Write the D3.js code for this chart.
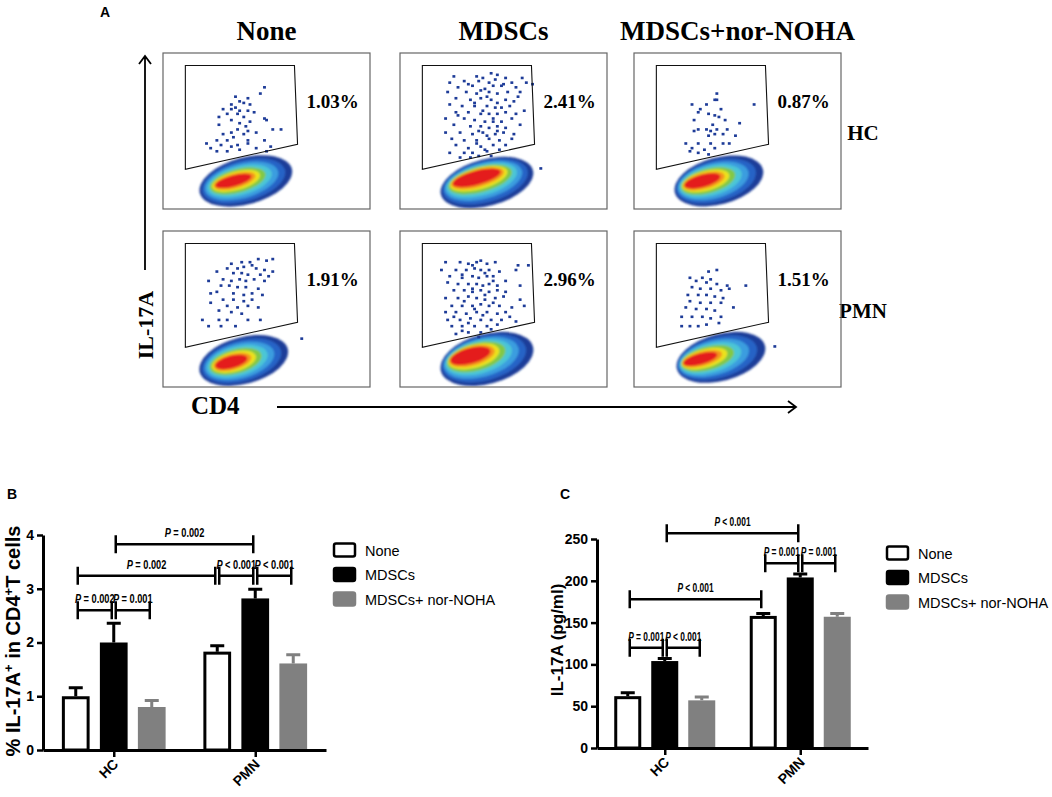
<!DOCTYPE html>
<html>
<head>
<meta charset="utf-8">
<script src="https://cdn.jsdelivr.net/npm/d3@7"></script>
<style>
body { margin: 0; background: #fff; }
text { font-family: "Liberation Sans", Arial, sans-serif; }
.serif { font-family: "Liberation Serif", "Times New Roman", serif; font-weight: bold; }
</style>
</head>
<body>
<svg id="fig" width="1052" height="797"></svg>
<script>
// ---- panel A data (flow plots) ----
var conditions = ['None', 'MDSCs', 'MDSCs+nor-NOHA'];
var donors = ['HC', 'PMN'];
var gatePct = [[1.03, 2.41, 0.87], [1.91, 2.96, 1.51]];
// IL-17A+ gate, CD4 vs IL-17A units (0-100)
var gate = [[10.8, 92], [63.5, 92], [65, 41.5], [10.8, 25.5]];
// main population: outer contour and dense core [cx, cy, rx, ry]
var popOuter = [
  [[40, 18, 23, 15], [42, 17, 23, 15], [41, 18, 22, 15]],
  [[39, 17, 22, 15], [42, 18, 23, 16], [42, 19, 22, 15]]
];
var popCore = [
  [[34, 18, 9, 3.5], [37, 20, 12, 4.5], [33, 18, 9, 4]],
  [[33, 16, 8, 4], [34, 20, 10, 5], [32, 18, 8.5, 3.5]]
];
// single events
var hcNone = [[49,78],[47,74],[35,72],[41,71],[37,69],[33,67],[39,68],[42,67],[35,65],[33,64],[29,64],[37,63],[41,63],[44,62],[36,61],[31,61],[27,59],[39,59],[49,58],[50,57],[33,57],[42,56],[37,55],[27,54],[40,53],[53,51],[57,51],[36,51],[41,50],[33,49],[29,48],[45,49],[39,48],[34,46],[26,44],[31,44],[41,44],[49,44],[21,42],[28,41],[36,41],[33,40],[41,42],[23,39],[45,39],[52,40],[26,37],[31,37],[37,38],[50,37]];
var hcMdsc = [[26,85],[37,85],[44,87],[47,86],[51,84],[59,84],[24,81],[31,82],[38,82],[43,81],[46,83],[54,81],[61,81],[28,78],[35,79],[41,77],[45,79],[49,79],[56,78],[23,75],[32,75],[37,74],[43,75],[47,74],[52,75],[58,75],[27,71],[34,70],[39,71],[44,70],[47,68],[51,70],[55,69],[24,67],[30,66],[36,66],[42,66],[46,65],[53,66],[60,63],[27,62],[33,62],[39,61],[43,61],[47,61],[51,62],[56,61],[22,58],[31,58],[36,57],[41,56],[45,58],[49,56],[54,58],[26,54],[34,53],[39,53],[43,52],[47,53],[51,52],[58,54],[22,49],[29,49],[35,48],[40,49],[46,48],[50,49],[55,48],[25,45],[31,44],[37,44],[43,45],[48,44],[54,45],[27,41],[33,39],[39,40],[45,41],[51,41],[24,36],[31,36],[35,36],[42,37],[29,33],[34,33],[40,84],[33,80],[50,80],[39,76],[42,72],[36,68],[49,65],[40,63],[45,56],[38,50],[42,47],[47,50],[37,42],[41,38],[38,34],[44,34],[48,38],[28,60],[57,72],[64,80],[68,26]];
var hcNoha = [[40,74],[39,70],[40,70],[28,67],[35,67],[58,67],[32,64],[42,64],[31,62],[36,61],[39,60],[41,59],[44,57],[29,57],[51,55],[38,54],[31,51],[35,51],[40,51],[45,51],[37,50],[29,50],[43,48],[49,47],[39,48],[36,47],[25,42],[31,42],[37,42],[43,42],[46,42],[28,39],[34,38],[39,39],[27,37],[31,36],[36,35]];
var pmnNone = [[46,82],[50,81],[53,82],[33,79],[38,80],[42,80],[43,78],[31,76],[36,76],[39,77],[45,76],[49,75],[53,74],[26,74],[34,73],[38,73],[41,72],[47,72],[51,71],[22,68],[29,69],[33,68],[37,69],[40,68],[44,69],[49,68],[28,65],[32,65],[36,64],[40,64],[46,63],[26,61],[23,60],[34,60],[39,59],[43,60],[48,59],[29,56],[34,56],[39,55],[43,56],[31,52],[36,51],[41,52],[46,51],[23,54],[27,49],[33,48],[38,47],[27,43],[19,43],[31,43],[41,43],[47,43],[22,39],[28,39],[35,39],[67,31]];
var pmnMdsc = [[22,80],[29,80],[33,79],[37,80],[39,81],[42,79],[46,80],[57,78],[62,78],[20,75],[27,75],[32,75],[36,76],[39,75],[43,75],[48,74],[56,75],[24,71],[30,70],[35,71],[38,70],[42,71],[45,71],[51,68],[23,67],[28,66],[33,66],[37,66],[40,65],[43,66],[47,65],[58,65],[26,62],[31,62],[35,61],[39,62],[43,61],[47,62],[51,61],[22,57],[28,57],[33,58],[37,57],[41,56],[46,57],[50,58],[58,56],[25,52],[30,52],[35,52],[39,53],[43,52],[48,52],[54,51],[60,52],[22,48],[27,48],[32,47],[37,48],[42,48],[47,47],[51,48],[23,43],[29,43],[34,44],[39,43],[44,43],[49,43],[56,42],[25,39],[30,39],[36,39],[42,39],[47,40],[27,34],[33,35],[39,35],[35,78],[41,73],[30,72],[45,68],[35,63],[41,59],[31,55],[45,54],[36,50],[40,46],[33,41],[44,37],[26,45],[53,45],[38,32],[30,36]];
var pmnNoha = [[36,74],[40,75],[27,70],[33,70],[37,69],[30,68],[35,67],[40,66],[45,65],[54,65],[28,64],[32,63],[37,63],[42,62],[46,63],[26,59],[31,59],[35,59],[39,58],[43,57],[27,55],[32,54],[37,54],[42,54],[48,51],[25,51],[30,50],[35,50],[39,49],[23,45],[28,45],[33,45],[37,44],[42,45],[23,39],[27,39],[31,39],[35,40],[41,41],[68,26]];
var events = [[hcNone, hcMdsc, hcNoha], [pmnNone, pmnMdsc, pmnNoha]];

// ---- panels B and C data ----
var groups = ['HC', 'PMN'];
var series = ['None', 'MDSCs', 'MDSCs+ nor-NOHA'];
var pctMean = [[1.0, 2.0, 0.8], [1.83, 2.82, 1.61]];
var pctErr = [[0.16, 0.36, 0.12], [0.11, 0.17, 0.16]];
var pctTicks = [0, 1, 2, 3, 4];
var il17Mean = [[62, 104, 57], [158, 204, 157]];
var il17Err = [[4, 3, 4], [3, 4, 4]];
var il17Ticks = [0, 50, 100, 150, 200, 250];
// [group1, series1, group2, series2, height, label]
var pctStats = [
  ['HC', 1, 'PMN', 1, 3.83, '= 0.002'],
  ['HC', 0, 'PMN', 0, 3.24, '= 0.002'],
  ['PMN', 0, 'PMN', 1, 3.24, '< 0.001'],
  ['PMN', 1, 'PMN', 2, 3.24, '< 0.001'],
  ['HC', 0, 'HC', 1, 2.6, '= 0.002'],
  ['HC', 1, 'HC', 2, 2.6, '= 0.001']
];
var il17Stats = [
  ['HC', 1, 'PMN', 1, 257, '< 0.001'],
  ['HC', 0, 'PMN', 0, 178, '< 0.001'],
  ['PMN', 0, 'PMN', 1, 221, '= 0.001'],
  ['PMN', 1, 'PMN', 2, 221, '= 0.001'],
  ['HC', 0, 'HC', 1, 120, '= 0.001'],
  ['HC', 1, 'HC', 2, 120, '< 0.001']
];

var svg = d3.select('#fig');

// contour colours from outer ring to core
var levels = [
  [0, '#1f3d99'], [0.17, '#2864c6'], [0.34, '#3b9ddf'], [0.5, '#4cc6d6'],
  [0.65, '#82c846'], [0.79, '#ece21e'], [0.9, '#f5961c'], [1, '#e41a1c']
];

svg.append('defs').append('filter').attr('id', 'soft')
  .append('feGaussianBlur').attr('stdDeviation', 0.9);

// ================= PANEL A =================
var boxW = 207, boxH = 156;
var colX = [163, 400, 634], rowY = [53, 231];

svg.append('text').attr('x', 100).attr('y', 17).attr('font-size', 14)
  .attr('font-weight', 'bold').text('A');

conditions.forEach(function (c, j) {
  svg.append('text').attr('class', 'serif').attr('x', colX[j] + boxW / 2).attr('y', 40)
    .attr('text-anchor', 'middle').attr('font-size', 27).text(c);
});
donors.forEach(function (d, i) {
  svg.append('text').attr('class', 'serif').attr('x', 863).attr('y', rowY[i] + boxH / 2 + 9)
    .attr('text-anchor', 'middle').attr('font-size', 21).text(d);
});

donors.forEach(function (d, i) {
  conditions.forEach(function (c, j) {
    var g = svg.append('g').attr('transform', 'translate(' + colX[j] + ',' + rowY[i] + ')');
    var x = d3.scaleLinear().domain([0, 100]).range([0, boxW]);
    var y = d3.scaleLinear().domain([0, 100]).range([boxH, 0]);
    var cid = 'clip' + i + j;
    g.append('clipPath').attr('id', cid).append('rect')
      .attr('width', boxW).attr('height', boxH);
    var inner = g.append('g').attr('clip-path', 'url(#' + cid + ')');

    var o = popOuter[i][j], k = popCore[i][j];
    inner.append('g').attr('filter', 'url(#soft)')
      .selectAll('ellipse').data(levels).join('ellipse')
      .each(function (lv) {
        var t = lv[0];
        var cx = x(o[0] + (k[0] - o[0]) * t), cy = y(o[1] + (k[1] - o[1]) * t);
        d3.select(this)
          .attr('cx', cx).attr('cy', cy)
          .attr('rx', x(o[2] + (k[2] - o[2]) * t) - x(0))
          .attr('ry', y(0) - y(o[3] + (k[3] - o[3]) * t))
          .attr('transform', 'rotate(-15,' + cx + ',' + cy + ')')
          .attr('fill', lv[1]);
      });

    inner.selectAll('rect.ev').data(events[i][j]).join('rect').attr('class', 'ev')
      .attr('x', function (p) { return x(p[0]) - 1.4; })
      .attr('y', function (p) { return y(p[1]) - 1.3; })
      .attr('width', 2.9).attr('height', 2.6).attr('fill', '#1e3c98');

    g.append('path')
      .attr('d', d3.line().x(function (p) { return x(p[0]); }).y(function (p) { return y(p[1]); })(gate) + 'Z')
      .attr('fill', 'none').attr('stroke', '#111').attr('stroke-width', 1.1);

    g.append('rect').attr('width', boxW).attr('height', boxH)
      .attr('fill', 'none').attr('stroke', '#666').attr('stroke-width', 1.2);

    g.append('text').attr('class', 'serif').attr('x', x(82)).attr('y', y(69) + 7)
      .attr('text-anchor', 'middle').attr('font-size', 19)
      .text(gatePct[i][j].toFixed(2) + '%');
  });
});

// axis arrows
svg.append('path').attr('d', 'M145,270V56M139,64L145,56L151,64')
  .attr('fill', 'none').attr('stroke', '#000').attr('stroke-width', 1.8);
svg.append('path').attr('d', 'M277,407H796M788,401L796,407L788,413')
  .attr('fill', 'none').attr('stroke', '#000').attr('stroke-width', 1.8);
svg.append('text').attr('class', 'serif').attr('font-size', 22)
  .attr('transform', 'translate(153,325) rotate(-90)').attr('text-anchor', 'middle').text('IL-17A');
svg.append('text').attr('class', 'serif').attr('font-size', 25)
  .attr('x', 191).attr('y', 414).text('CD4');

// ================= PANELS B, C =================
function barChart(o) {
  var y = d3.scaleLinear().domain([0, o.max]).range([o.bottom, o.top]);
  var xg = d3.scalePoint().domain(groups).range([o.left, o.right]).padding(0.5);
  var xs = d3.scaleBand().domain(d3.range(series.length))
    .range([-o.half, o.half]).paddingInner(0.27).paddingOuter(0.135);
  var bw = xs.bandwidth();
  function cx(g, s) { return xg(g) + xs(s) + bw / 2; }
  var fills = ['#fff', '#000', '#808080'];
  var strokes = ['#000', '#000', '#808080'];

  var rows = [];
  groups.forEach(function (g, gi) {
    series.forEach(function (s, si) {
      rows.push({ g: g, s: si, v: o.mean[gi][si], e: o.err[gi][si] });
    });
  });

  var cg = svg.append('g');
  // error bars (up only)
  cg.selectAll('path.err').data(rows).join('path').attr('class', 'err')
    .attr('d', function (d) {
      var c = cx(d.g, d.s), t = y(d.v + d.e);
      return 'M' + c + ',' + y(d.v) + 'V' + t + 'M' + (c - 7) + ',' + t + 'H' + (c + 7);
    })
    .attr('fill', 'none').attr('stroke-width', 3)
    .attr('stroke', function (d) { return strokes[d.s]; });
  // bars
  cg.selectAll('rect.bar').data(rows).join('rect').attr('class', 'bar')
    .attr('x', function (d) { return cx(d.g, d.s) - bw / 2 + 1.5; })
    .attr('y', function (d) { return y(d.v) + 1.5; })
    .attr('width', bw - 3)
    .attr('height', function (d) { return o.bottom - y(d.v) - 1.5; })
    .attr('fill', function (d) { return fills[d.s]; })
    .attr('stroke', function (d) { return strokes[d.s]; })
    .attr('stroke-width', 3);

  // axes
  var ay = svg.append('g').attr('transform', 'translate(' + o.left + ',0)')
    .call(d3.axisLeft(y).tickValues(o.ticks).tickFormat(d3.format('d'))
      .tickSize(6).tickSizeOuter(0).tickPadding(3));
  var ax = svg.append('g').attr('transform', 'translate(0,' + o.bottom + ')')
    .call(d3.axisBottom(xg).tickSize(7).tickSizeOuter(0));
  [ay, ax].forEach(function (a) {
    a.select('.domain').attr('stroke-width', 3).attr('stroke', '#000');
    a.selectAll('.tick line').attr('stroke-width', 2.5).attr('stroke', '#000');
    a.selectAll('text').attr('font-size', 14).attr('font-weight', 'bold')
      .attr('font-family', '"Liberation Sans", Arial, sans-serif').attr('fill', '#000');
  });
  ax.selectAll('.tick text').attr('y', 0).attr('dy', 0)
    .attr('transform', 'translate(5,15) rotate(-45)').attr('text-anchor', 'end');

  // significance brackets
  o.stats.forEach(function (b) {
    var x1 = cx(b[0], b[1]) + 2, x2 = cx(b[2], b[3]) - 2, yy = y(b[4]);
    svg.append('path')
      .attr('d', 'M' + x1 + ',' + (yy - 9) + 'V' + (yy + 9) + 'M' + x1 + ',' + yy + 'H' + x2 +
        'M' + x2 + ',' + (yy - 9) + 'V' + (yy + 9))
      .attr('fill', 'none').attr('stroke', '#000').attr('stroke-width', 2.5);
    var t = svg.append('text')
      .attr('transform', 'translate(' + ((x1 + x2) / 2) + ',' + (yy - 7) + ') scale(' + o.pScale + ',1)')
      .attr('text-anchor', 'middle').attr('font-size', 12).attr('font-weight', 'bold');
    t.append('tspan').attr('font-style', 'italic').text('P');
    t.append('tspan').text(' ' + b[5]);
  });

  // legend
  var lg = svg.append('g').attr('transform', 'translate(' + o.legX + ',' + o.legY + ')');
  series.forEach(function (s, si) {
    lg.append('rect').attr('x', 0).attr('y', si * 24.5 - 6.5).attr('width', 21).attr('height', 13)
      .attr('rx', 2).attr('fill', fills[si]).attr('stroke', strokes[si]).attr('stroke-width', 2.5);
    lg.append('text').attr('x', 31).attr('y', si * 24.5 + 5.5).attr('font-size', 14.5).text(s);
  });

  // panel letter and y label
  svg.append('text').attr('x', o.letter[0]).attr('y', o.letter[1]).attr('font-size', 14)
    .attr('font-weight', 'bold').text(o.letter[2]);
  var yl = svg.append('text')
    .attr('transform', 'translate(' + o.ylab[0] + ',' + o.ylab[1] + ') rotate(-90)')
    .attr('text-anchor', 'middle').attr('font-weight', 'bold').attr('font-size', o.ylab[2]);
  o.ylabel.forEach(function (p) {
    var ts = yl.append('tspan').text(p[0]);
    if (p[1]) ts.attr('baseline-shift', 'super').attr('font-size', o.ylab[2] * 0.65);
  });
}

barChart({
  left: 43, right: 326, top: 535, bottom: 750, half: 57, max: 4, pScale: 0.77,
  ticks: pctTicks, mean: pctMean, err: pctErr, stats: pctStats,
  legX: 334, legY: 550, letter: [7, 499, 'B'], ylab: [20, 641, 20],
  ylabel: [['% IL-17A'], ['+', 1], [' in CD4'], ['+', 1], ['T cells']]
});
barChart({
  left: 597, right: 868, top: 539, bottom: 748, half: 55.5, max: 250, pScale: 0.7,
  ticks: il17Ticks, mean: il17Mean, err: il17Err, stats: il17Stats,
  legX: 887, legY: 553, letter: [560, 499, 'C'], ylab: [563, 640, 17],
  ylabel: [['IL-17A (pg/ml)']]
});
</script>
</body>
</html>
